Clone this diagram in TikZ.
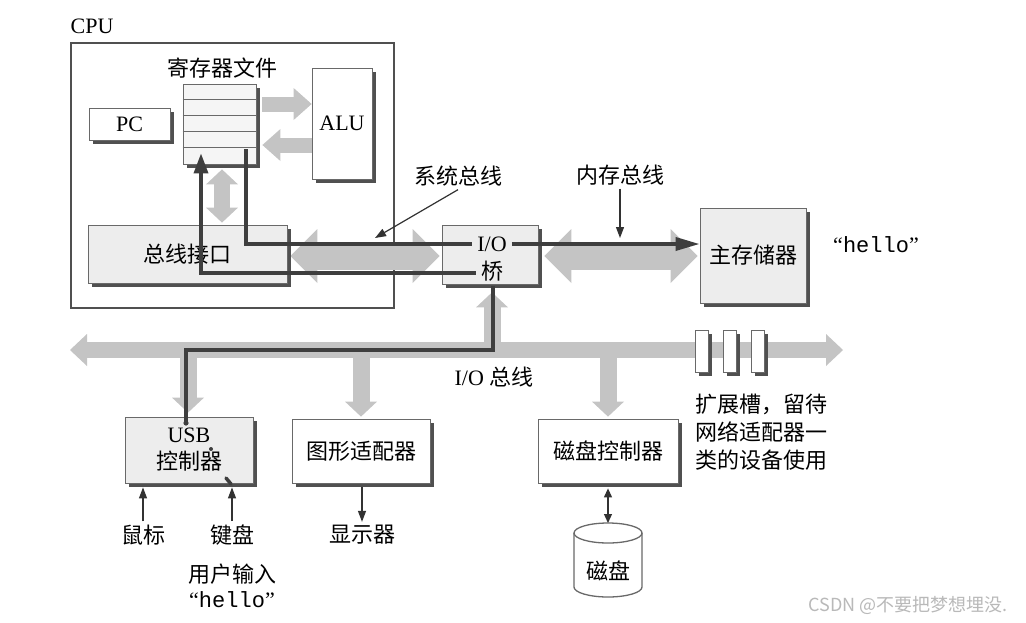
\documentclass[tikz,border=0pt]{standalone}
\usepackage{fontspec}
\setmainfont{Liberation Serif}
\setmonofont{Liberation Mono}
\newfontfamily\cjk{Noto Sans CJK SC}
\usetikzlibrary{arrows.meta,shadows,calc}
\pgfdeclarelayer{bglow}
\pgfdeclarelayer{bgmid}
\pgfsetlayers{bglow,bgmid,main}
\definecolor{busgray}{RGB}{196,196,196}
\definecolor{shadowc}{RGB}{80,80,80}
\definecolor{boxline}{RGB}{105,105,105}
\definecolor{lightfill}{RGB}{237,237,237}
\definecolor{regfill}{RGB}{245,245,245}
\definecolor{pathc}{RGB}{62,62,62}
\definecolor{thinc}{RGB}{50,50,50}
\definecolor{cpuc}{RGB}{80,80,80}
\definecolor{wmark}{RGB}{185,185,185}
\begin{document}
\begin{tikzpicture}[x=1pt,y=-1pt,
  lat/.style={font=\fontsize{22}{27}\selectfont},
  cn/.style={font=\cjk\fontsize{22}{28}\selectfont},
  box/.style={draw=boxline, line width=0.8pt, fill=white, inner sep=0pt,
    general shadow={fill=shadowc, shadow xshift=3.5pt, shadow yshift=-3.5pt}},
  bigbus/.style={draw=busgray, line width=28pt,
    arrows={Triangle[length=27pt,width=54pt,line width=0pt]-Triangle[length=27pt,width=54pt,line width=0pt]}},
  iobus/.style={draw=busgray, line width=16pt,
    arrows={Triangle[length=17pt,width=32pt,line width=0pt]-Triangle[length=17pt,width=32pt,line width=0pt]}},
  branch/.style={draw=busgray, line width=17pt,
    arrows={-Triangle[length=15pt,width=32pt,line width=0pt]}},
  smallbus/.style={draw=busgray, line width=15pt,
    arrows={-Triangle[length=18pt,width=32pt,line width=0pt]}},
  vbus/.style={draw=busgray, line width=16pt,
    arrows={Triangle[length=15pt,width=32pt,line width=0pt]-Triangle[length=15pt,width=32pt,line width=0pt]}},
  datapath/.style={draw=pathc, line width=3.5pt},
  thinarrow/.style={draw=thinc, line width=1.2pt, arrows={-Triangle[length=11pt,width=8pt]}},
  thindouble/.style={draw=thinc, line width=1.2pt, arrows={Triangle[length=9pt,width=8pt]-Triangle[length=9pt,width=8pt]}}
]
\begin{pgfonlayer}{bglow}
\fill[white] (0,0) rectangle (1026,622);
\end{pgfonlayer}
\useasboundingbox (0,0) rectangle (1026,622);

% CPU frame
\begin{pgfonlayer}{bglow}
\node[draw=cpuc, line width=2.2pt, minimum width=323pt, minimum height=265pt, inner sep=0pt] (cpu) at (232.5,175.5) {};
\end{pgfonlayer}
\node[lat] (cpulbl) at (92,26) {CPU};

% register file
\node[box, fill=regfill, minimum width=73pt, minimum height=80pt] (reg) at (219.5,124) {};
\foreach \k in {1,2,3,4}
  \draw[boxline, line width=0.8pt] ($(reg.north west)+(0,16*\k)$) -- ($(reg.north east)+(0,16*\k)$);
\node[cn] (reglbl) at (222,68) {寄存器文件};

\node[box, lat, minimum width=81pt, minimum height=32pt] (pc) at (129.5,124) {PC};
\node[box, lat, minimum width=60pt, minimum height=111pt] (alu) at (342,123.5) {ALU};
\node[box, cn, fill=lightfill, minimum width=199pt, minimum height=58pt] (bi) at (187.5,254) {总线接口};

% I/O bridge
\node[box, fill=lightfill, minimum width=96pt, minimum height=59pt] (bridge) at (490,254.5) {};
\node[lat, inner sep=5pt] (io) at (492,244) {I/O};
\node[cn, inner sep=5pt] (qiao) at (492,271) {桥};

% main memory
\node[box, cn, fill=lightfill, minimum width=106pt, minimum height=95pt] (mem) at (753,255.5) {主存储器};
\node[lat] (hello1) at (876,245) {“{\ttfamily hello}”};

\node[cn] (syslbl) at (458,176) {系统总线};
\node[cn] (memlbl) at (620,175) {内存总线};
\node[lat] (iolbl) at (494,377) {I/O {\cjk 总线}};

% I/O devices
\node[box, lat, fill=lightfill, align=center, minimum width=128pt, minimum height=66pt] (usb) at (189,450) {USB\\{\cjk 控制器}};
\node[box, cn, minimum width=138pt, minimum height=64pt] (gfx) at (361,451) {图形适配器};
\node[box, cn, minimum width=140pt, minimum height=64pt] (dc) at (608,451) {磁盘控制器};

% expansion slots
\node[box, minimum width=13pt, minimum height=42pt] (slot1) at (701.5,351) {};
\node[box, minimum width=13pt, minimum height=42pt] (slot2) at (730,351) {};
\node[box, minimum width=13pt, minimum height=42pt] (slot3) at (757.5,351) {};
\node[cn, align=left, anchor=west] (exptext) at (692,432) {扩展槽，留待\\网络适配器一\\类的设备使用};

\node[cn] (mouse) at (143,535) {鼠标};
\node[cn] (kbd) at (232,535) {键盘};
\node[cn] (disp) at (362,535) {显示器};
\node[cn] (input) at (232,574) {用户输入};
\node[lat] (hello2) at (232,600) {“{\ttfamily hello}”};

% disk
\draw[boxline, line width=1.3pt, fill=white] (574,533) -- (574,587) arc[start angle=180, end angle=0, x radius=34, y radius=10] -- (642,533);
\draw[boxline, line width=1.3pt] (608,533) ellipse[x radius=34, y radius=10];
\node[cn] (disk) at (608,571) {磁盘};
\coordinate (disktop) at (608,523);

\node[font=\cjk\fontsize{18}{20}\selectfont, text=wmark] (wm) at (908,605) {CSDN @不要把梦想埋没.};

% gray buses
\coordinate (iobL) at (70,350);
\coordinate (iobR) at (843,350);
\coordinate (jusb) at (188,350);
\coordinate (jgfx) at (361,350);
\coordinate (jdisk) at (608,350);
\coordinate (jbr) at (492,350);
\begin{pgfonlayer}{bgmid}
\draw[bigbus] ($(bi.east)+(3,2)$) -- ($(bridge.west)+(-2,1.5)$);
\draw[bigbus] ($(bridge.east)+(6,1.5)$) -- ($(mem.west)+(-2,0.5)$);
\draw[iobus] (iobL) -- (iobR);
\draw[branch] (jbr) -- ($(bridge.south)+(2,8)$);
\draw[branch] (jusb) -- ($(usb.north)+(-1,-4)$);
\draw[branch] (jgfx) -- ($(gfx.north)+(0,-2)$);
\draw[branch] (jdisk) -- ($(dc.north)+(0,-2)$);
\draw[smallbus] ($(reg.east)+(6,-20)$) -- ($(alu.west)+(0,-19.5)$);
\draw[smallbus] ($(alu.west)+(0,21.5)$) -- ($(reg.east)+(6,21)$);
\draw[vbus] ($(reg.south)+(2.5,5)$) -- ($(bi.north)+(34.5,-2)$);
\end{pgfonlayer}

% data paths
\coordinate (bend) at (493,350);
\coordinate (usbin) at (186,423);
\draw[datapath] ($(reg.south)+(26.5,-15)$) |- (io.west);
\draw[datapath, arrows={-Triangle[length=24pt,width=13pt]}] (io.east) -- (io.east -| mem.west);
\draw[datapath, arrows={-Triangle[length=20pt,width=14pt]}] ($(qiao.west)+(0,2)$) -| ($(reg.south)+(-18.5,-11)$);
\draw[datapath] (usbin) |- (bend) -- (bend |- qiao.south);
\fill[pathc] (usbin) circle[radius=2.6pt];
\fill[pathc] (211,449) circle[radius=2pt];
\draw[datapath, line cap=round] (226,478) -- (231,484);

% thin arrows
\coordinate (systip) at (375,238);
\coordinate (memtip) at (620,238);
\draw[thinarrow] (syslbl.south) -- (systip);
\draw[thinarrow] (memlbl.south) -- (memtip);
\draw[thinarrow] (mouse.north) -- ($(mouse.north |- usb.south)+(0,4)$);
\draw[thinarrow] (kbd.north) -- ($(kbd.north |- usb.south)+(0,4)$);
\draw[thinarrow] ($(gfx.south)+(1,4)$) -- (disp.north);
\draw[thindouble] ($(dc.south)+(0,5)$) -- (disktop);
\end{tikzpicture}
\end{document}
